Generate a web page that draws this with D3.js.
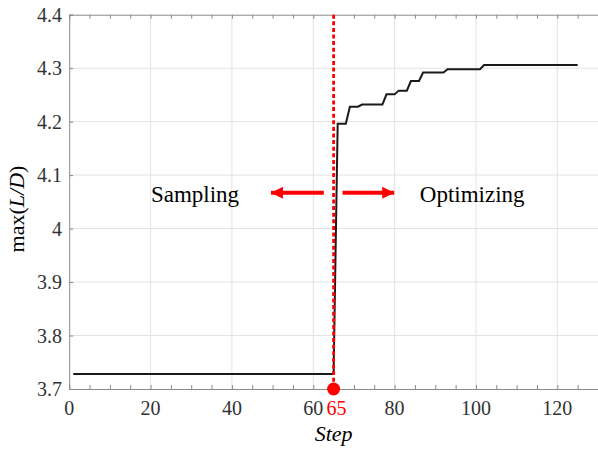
<!DOCTYPE html>
<html>
<head>
<meta charset="utf-8">
<script src="https://cdn.jsdelivr.net/npm/d3@7"></script>
<style>
  body { margin: 0; background: #fff; }
  svg { display: block; }
</style>
</head>
<body>
<script>
const width = 598;
const height = 450;

// bend points of the max(L/D) history
const steps = [1, 65, 66, 68, 69, 71, 72, 77, 78, 80, 81, 83, 84, 86, 87, 92, 93, 101, 102, 125];
const values = [3.728, 3.728, 4.196, 4.196, 4.228, 4.228, 4.232, 4.232, 4.251, 4.251,
                4.258, 4.258, 4.276, 4.276, 4.292, 4.292, 4.298, 4.298, 4.306, 4.306];

const xTicks = [0, 20, 40, 60, 80, 100, 120];
const yTicks = [3.7, 3.8, 3.9, 4.0, 4.1, 4.2, 4.3, 4.4];
const switchStep = 65;

const x = d3.scaleLinear().domain([0, 130]).range([69.2, 598]);
const y = d3.scaleLinear().domain([3.7, 4.4]).range([389, 14.7]);

const svg = d3.select("body").append("svg")
  .attr("width", width)
  .attr("height", height)
  .attr("font-family", "'Liberation Serif', 'Times New Roman', serif");

// grid
svg.append("g")
  .selectAll("line")
  .data(xTicks.slice(1))
  .enter()
  .append("line")
    .attr("x1", function (d) { return x(d); })
    .attr("x2", function (d) { return x(d); })
    .attr("y1", y(3.7))
    .attr("y2", y(4.4))
    .attr("stroke", "#e3e3e3")
    .attr("stroke-width", 1);

svg.append("g")
  .selectAll("line")
  .data(yTicks.slice(1, -1))
  .enter()
  .append("line")
    .attr("x1", x(0))
    .attr("x2", width)
    .attr("y1", function (d) { return y(d); })
    .attr("y2", function (d) { return y(d); })
    .attr("stroke", "#e3e3e3")
    .attr("stroke-width", 1);

// axes, ticks pointing inward
const minorX = d3.range(0, 131, 5);

const bottomAxis = d3.axisTop(x).tickValues(minorX).tickSize(4).tickFormat("");
svg.append("g")
  .attr("transform", "translate(0," + y(3.7) + ")")
  .call(bottomAxis);

const topAxis = d3.axisBottom(x).tickValues(minorX).tickSize(4).tickFormat("");
svg.append("g")
  .attr("transform", "translate(0," + y(4.4) + ")")
  .call(topAxis);

const leftAxis = d3.axisRight(y).tickValues(yTicks).tickSize(4).tickFormat("");
svg.append("g")
  .attr("transform", "translate(" + x(0) + ",0)")
  .call(leftAxis);

svg.selectAll(".domain, .tick line")
  .attr("stroke", "#8a8a8a")
  .attr("stroke-width", 1);

// tick labels
svg.append("g")
  .selectAll("text")
  .data(xTicks)
  .enter()
  .append("text")
  .text(function (d) { return d; })
  .attr("x", function (d) { return x(d); })
  .attr("y", 415)
  .attr("text-anchor", "middle")
  .attr("font-size", 20)
  .attr("fill", "#333");

svg.append("g")
  .selectAll("text")
  .data(yTicks)
  .enter()
  .append("text")
  .text(function (d) { return d3.format("~g")(d); })
  .attr("x", 62)
  .attr("y", function (d) { return y(d) + 7; })
  .attr("text-anchor", "end")
  .attr("font-size", 20)
  .attr("fill", "#333");

// axis titles
svg.append("text")
  .attr("x", x(65))
  .attr("y", 441)
  .attr("text-anchor", "middle")
  .attr("font-size", 22)
  .attr("font-style", "italic")
  .attr("fill", "#000")
  .text("Step");

const yLabel = svg.append("text")
  .attr("transform", "translate(24,209) rotate(-90)")
  .attr("text-anchor", "middle")
  .attr("font-size", 22)
  .attr("fill", "#000");
yLabel.append("tspan").text("max(");
yLabel.append("tspan").attr("font-style", "italic").text("L/D");
yLabel.append("tspan").text(")");

// data line
const line = d3.line()
  .x(function (d, i) { return x(steps[i]); })
  .y(function (d) { return y(d); });

svg.append("path")
  .datum(values)
  .attr("d", line)
  .attr("fill", "none")
  .attr("stroke", "#1a1a1a")
  .attr("stroke-width", 2);

// switch marker
svg.append("line")
  .attr("x1", x(switchStep))
  .attr("x2", x(switchStep))
  .attr("y1", y(4.4))
  .attr("y2", y(3.7))
  .attr("stroke", "#ff0000")
  .attr("stroke-width", 2.8)
  .attr("stroke-dasharray", "4,2.6");

svg.append("circle")
  .attr("cx", x(switchStep))
  .attr("cy", y(3.7))
  .attr("r", 6.5)
  .attr("fill", "#ff0000");

svg.append("text")
  .attr("x", x(switchStep) + 3)
  .attr("y", 415)
  .attr("text-anchor", "middle")
  .attr("font-size", 20)
  .attr("fill", "#ff0000")
  .text(switchStep);

// annotations
const defs = svg.append("defs");
defs.append("marker")
  .attr("id", "head")
  .attr("viewBox", "0 0 10 10")
  .attr("refX", 10)
  .attr("refY", 5)
  .attr("markerUnits", "userSpaceOnUse")
  .attr("markerWidth", 17)
  .attr("markerHeight", 12)
  .attr("orient", "auto")
  .append("path")
    .attr("d", "M0,0 L10,5 L0,10 Z")
    .attr("fill", "#ff0000");

const arrows = [[62.6, 49.6], [67.2, 79.9]];
svg.append("g")
  .selectAll("line")
  .data(arrows)
  .enter()
  .append("line")
    .attr("x1", function (d) { return x(d[0]); })
    .attr("x2", function (d) { return x(d[1]); })
    .attr("y1", y(4.067))
    .attr("y2", y(4.067))
    .attr("stroke", "#ff0000")
    .attr("stroke-width", 4)
    .attr("marker-end", "url(#head)");

svg.append("text")
  .attr("x", x(20.1))
  .attr("y", y(4.05))
  .attr("font-size", 23)
  .attr("fill", "#000")
  .text("Sampling");

svg.append("text")
  .attr("x", x(86.2))
  .attr("y", y(4.05))
  .attr("font-size", 23)
  .attr("fill", "#000")
  .text("Optimizing");
</script>
</body>
</html>
